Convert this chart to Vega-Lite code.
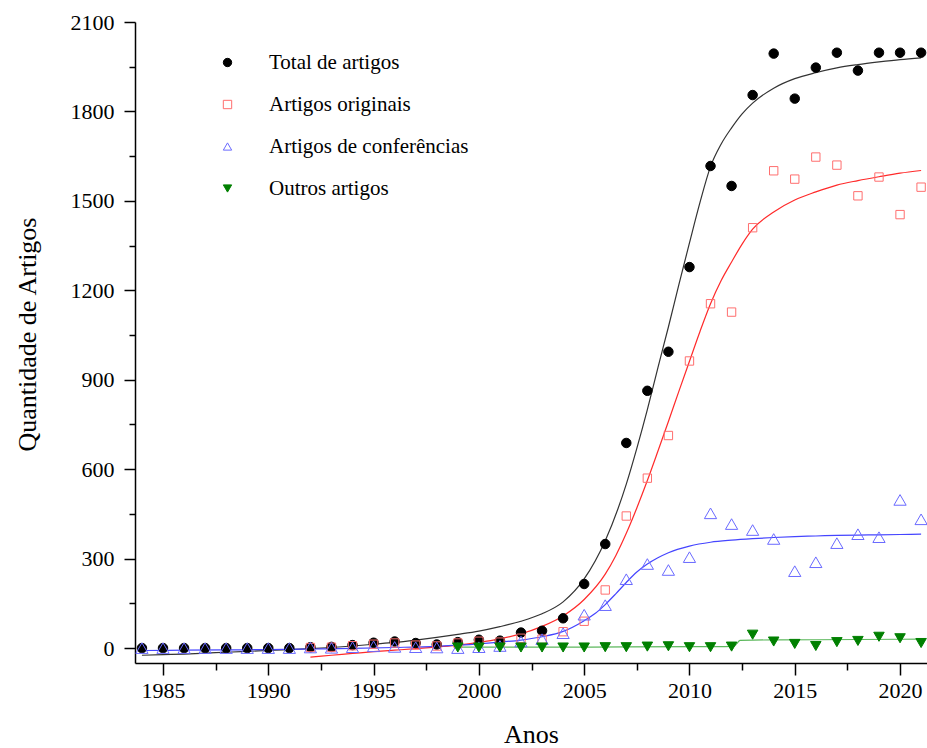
{
  "$schema": "https://vega.github.io/schema/vega-lite/v6.json",
  "width": 792,
  "height": 641,
  "autosize": "none",
  "padding": {"left": 135, "top": 22, "right": 0, "bottom": 85},
  "background": "white",
  "config": {
    "view": {"stroke": null},
    "font": "Liberation Serif",
    "axis": {
      "grid": false,
      "domainColor": "black",
      "domainWidth": 1.5,
      "tickColor": "black",
      "tickWidth": 1.5,
      "labelFont": "Liberation Serif",
      "labelFontSize": 22,
      "labelColor": "black",
      "titleFont": "Liberation Serif",
      "titleFontSize": 26,
      "titleFontWeight": "normal",
      "titleColor": "black"
    },
    "legend": {
      "orient": "none",
      "legendX": 82,
      "legendY": 30,
      "padding": 0,
      "labelFont": "Liberation Serif",
      "labelFontSize": 21,
      "labelColor": "black",
      "labelLimit": 0,
      "symbolSize": 70,
      "symbolStrokeWidth": 1,
      "rowPadding": 20,
      "labelOffset": 31
    }
  },
  "datasets": {
    "pts": [
      {"year": 1984, "Total de artigos": 0, "Artigos originais": null, "Artigos de conferências": 0, "Outros artigos": null},
      {"year": 1985, "Total de artigos": 0, "Artigos originais": null, "Artigos de conferências": 0, "Outros artigos": null},
      {"year": 1986, "Total de artigos": 0, "Artigos originais": null, "Artigos de conferências": 0, "Outros artigos": null},
      {"year": 1987, "Total de artigos": 0, "Artigos originais": null, "Artigos de conferências": 0, "Outros artigos": null},
      {"year": 1988, "Total de artigos": 0, "Artigos originais": null, "Artigos de conferências": 0, "Outros artigos": null},
      {"year": 1989, "Total de artigos": 0, "Artigos originais": null, "Artigos de conferências": 0, "Outros artigos": null},
      {"year": 1990, "Total de artigos": 0, "Artigos originais": null, "Artigos de conferências": 0, "Outros artigos": null},
      {"year": 1991, "Total de artigos": 0, "Artigos originais": null, "Artigos de conferências": 0, "Outros artigos": null},
      {"year": 1992, "Total de artigos": 3, "Artigos originais": 2, "Artigos de conferências": 2, "Outros artigos": null},
      {"year": 1993, "Total de artigos": 4, "Artigos originais": 3, "Artigos de conferências": 1, "Outros artigos": null},
      {"year": 1994, "Total de artigos": 10, "Artigos originais": 8, "Artigos de conferências": 3, "Outros artigos": null},
      {"year": 1995, "Total de artigos": 18, "Artigos originais": 13, "Artigos de conferências": 6, "Outros artigos": null},
      {"year": 1996, "Total de artigos": 22, "Artigos originais": 17, "Artigos de conferências": 4, "Outros artigos": null},
      {"year": 1997, "Total de artigos": 17, "Artigos originais": 10, "Artigos de conferências": 3, "Outros artigos": null},
      {"year": 1998, "Total de artigos": 12, "Artigos originais": 7, "Artigos de conferências": 2, "Outros artigos": null},
      {"year": 1999, "Total de artigos": 20, "Artigos originais": 17, "Artigos de conferências": 0, "Outros artigos": 2},
      {"year": 2000, "Total de artigos": 28, "Artigos originais": 23, "Artigos de conferências": 3, "Outros artigos": 2},
      {"year": 2001, "Total de artigos": 25, "Artigos originais": 20, "Artigos de conferências": 7, "Outros artigos": 2},
      {"year": 2002, "Total de artigos": 52, "Artigos originais": 33, "Artigos de conferências": 22, "Outros artigos": 2},
      {"year": 2003, "Total de artigos": 58, "Artigos originais": 30, "Artigos de conferências": 30, "Outros artigos": 2},
      {"year": 2004, "Total de artigos": 100, "Artigos originais": 55, "Artigos de conferências": 50, "Outros artigos": 2},
      {"year": 2005, "Total de artigos": 215, "Artigos originais": 90, "Artigos de conferências": 112, "Outros artigos": 2},
      {"year": 2006, "Total de artigos": 349, "Artigos originais": 195, "Artigos de conferências": 144, "Outros artigos": 3},
      {"year": 2007, "Total de artigos": 688, "Artigos originais": 443, "Artigos de conferências": 231, "Outros artigos": 3},
      {"year": 2008, "Total de artigos": 863, "Artigos originais": 570, "Artigos de conferências": 282, "Outros artigos": 5},
      {"year": 2009, "Total de artigos": 994, "Artigos originais": 713, "Artigos de conferências": 262, "Outros artigos": 6},
      {"year": 2010, "Total de artigos": 1278, "Artigos originais": 963, "Artigos de conferências": 305, "Outros artigos": 3},
      {"year": 2011, "Total de artigos": 1617, "Artigos originais": 1155, "Artigos de conferências": 452, "Outros artigos": 3},
      {"year": 2012, "Total de artigos": 1550, "Artigos originais": 1127, "Artigos de conferências": 416, "Outros artigos": 5},
      {"year": 2013, "Total de artigos": 1855, "Artigos originais": 1410, "Artigos de conferências": 396, "Outros artigos": 45},
      {"year": 2014, "Total de artigos": 1994, "Artigos originais": 1601, "Artigos de conferências": 366, "Outros artigos": 22},
      {"year": 2015, "Total de artigos": 1843, "Artigos originais": 1573, "Artigos de conferências": 258, "Outros artigos": 14},
      {"year": 2016, "Total de artigos": 1947, "Artigos originais": 1647, "Artigos de conferências": 288, "Outros artigos": 7},
      {"year": 2017, "Total de artigos": 1997, "Artigos originais": 1620, "Artigos de conferências": 352, "Outros artigos": 20},
      {"year": 2018, "Total de artigos": 1937, "Artigos originais": 1517, "Artigos de conferências": 382, "Outros artigos": 24},
      {"year": 2019, "Total de artigos": 1997, "Artigos originais": 1580, "Artigos de conferências": 372, "Outros artigos": 38},
      {"year": 2020, "Total de artigos": 1997, "Artigos originais": 1454, "Artigos de conferências": 497, "Outros artigos": 33},
      {"year": 2021, "Total de artigos": 1997, "Artigos originais": 1546, "Artigos de conferências": 432, "Outros artigos": 17}
    ],
    "fits": [
      {"k": "t", "x": 1984, "y": -24}, {"k": "t", "x": 1985, "y": -22}, {"k": "t", "x": 1986, "y": -20}, {"k": "t", "x": 1987, "y": -17},
      {"k": "t", "x": 1988, "y": -14}, {"k": "t", "x": 1989, "y": -11}, {"k": "t", "x": 1990, "y": -8}, {"k": "t", "x": 1991, "y": -5},
      {"k": "t", "x": 1992, "y": -2}, {"k": "t", "x": 1993, "y": 2}, {"k": "t", "x": 1994, "y": 7}, {"k": "t", "x": 1995, "y": 13},
      {"k": "t", "x": 1996, "y": 19}, {"k": "t", "x": 1997, "y": 27}, {"k": "t", "x": 1998, "y": 36}, {"k": "t", "x": 1999, "y": 46},
      {"k": "t", "x": 2000, "y": 57}, {"k": "t", "x": 2001, "y": 72}, {"k": "t", "x": 2002, "y": 90}, {"k": "t", "x": 2003, "y": 115},
      {"k": "t", "x": 2004, "y": 155}, {"k": "t", "x": 2005, "y": 232}, {"k": "t", "x": 2006, "y": 360}, {"k": "t", "x": 2007, "y": 550},
      {"k": "t", "x": 2007.5, "y": 670}, {"k": "t", "x": 2008, "y": 800}, {"k": "t", "x": 2008.5, "y": 940}, {"k": "t", "x": 2009, "y": 1077},
      {"k": "t", "x": 2009.5, "y": 1220}, {"k": "t", "x": 2010, "y": 1359}, {"k": "t", "x": 2010.5, "y": 1495}, {"k": "t", "x": 2011, "y": 1615},
      {"k": "t", "x": 2011.5, "y": 1690}, {"k": "t", "x": 2012, "y": 1745}, {"k": "t", "x": 2012.5, "y": 1792}, {"k": "t", "x": 2013, "y": 1828},
      {"k": "t", "x": 2014, "y": 1878}, {"k": "t", "x": 2015, "y": 1910}, {"k": "t", "x": 2016, "y": 1930}, {"k": "t", "x": 2017, "y": 1946},
      {"k": "t", "x": 2018, "y": 1957}, {"k": "t", "x": 2019, "y": 1966}, {"k": "t", "x": 2020, "y": 1974}, {"k": "t", "x": 2021, "y": 1980},
      {"k": "o", "x": 1992, "y": -30}, {"k": "o", "x": 1993, "y": -24}, {"k": "o", "x": 1994, "y": -18}, {"k": "o", "x": 1995, "y": -12},
      {"k": "o", "x": 1996, "y": -7}, {"k": "o", "x": 1997, "y": -2}, {"k": "o", "x": 1998, "y": 4}, {"k": "o", "x": 1999, "y": 10},
      {"k": "o", "x": 2000, "y": 19}, {"k": "o", "x": 2001, "y": 31}, {"k": "o", "x": 2002, "y": 48}, {"k": "o", "x": 2003, "y": 73},
      {"k": "o", "x": 2004, "y": 108}, {"k": "o", "x": 2005, "y": 163}, {"k": "o", "x": 2006, "y": 248}, {"k": "o", "x": 2006.5, "y": 310},
      {"k": "o", "x": 2007, "y": 385}, {"k": "o", "x": 2007.5, "y": 470}, {"k": "o", "x": 2008, "y": 562}, {"k": "o", "x": 2008.5, "y": 660},
      {"k": "o", "x": 2009, "y": 760}, {"k": "o", "x": 2009.5, "y": 862}, {"k": "o", "x": 2010, "y": 962}, {"k": "o", "x": 2010.5, "y": 1062},
      {"k": "o", "x": 2011, "y": 1155}, {"k": "o", "x": 2011.5, "y": 1232}, {"k": "o", "x": 2012, "y": 1295}, {"k": "o", "x": 2012.5, "y": 1355},
      {"k": "o", "x": 2013, "y": 1405}, {"k": "o", "x": 2014, "y": 1463}, {"k": "o", "x": 2015, "y": 1503}, {"k": "o", "x": 2016, "y": 1530},
      {"k": "o", "x": 2017, "y": 1553}, {"k": "o", "x": 2018, "y": 1568}, {"k": "o", "x": 2019, "y": 1581}, {"k": "o", "x": 2020, "y": 1593},
      {"k": "o", "x": 2021, "y": 1602},
      {"k": "c", "x": 1984, "y": -8}, {"k": "c", "x": 1986, "y": -7}, {"k": "c", "x": 1988, "y": -6}, {"k": "c", "x": 1990, "y": -5},
      {"k": "c", "x": 1992, "y": -3}, {"k": "c", "x": 1994, "y": -1}, {"k": "c", "x": 1996, "y": 2}, {"k": "c", "x": 1998, "y": 6},
      {"k": "c", "x": 2000, "y": 14}, {"k": "c", "x": 2001, "y": 20}, {"k": "c", "x": 2002, "y": 27}, {"k": "c", "x": 2003, "y": 38},
      {"k": "c", "x": 2004, "y": 56}, {"k": "c", "x": 2005, "y": 92}, {"k": "c", "x": 2005.5, "y": 115}, {"k": "c", "x": 2006, "y": 146},
      {"k": "c", "x": 2006.5, "y": 182}, {"k": "c", "x": 2007, "y": 220}, {"k": "c", "x": 2007.5, "y": 255}, {"k": "c", "x": 2008, "y": 282},
      {"k": "c", "x": 2008.5, "y": 303}, {"k": "c", "x": 2009, "y": 320}, {"k": "c", "x": 2010, "y": 342}, {"k": "c", "x": 2011, "y": 355},
      {"k": "c", "x": 2012, "y": 362}, {"k": "c", "x": 2013, "y": 367}, {"k": "c", "x": 2014, "y": 371}, {"k": "c", "x": 2015, "y": 374},
      {"k": "c", "x": 2016, "y": 376}, {"k": "c", "x": 2017, "y": 378}, {"k": "c", "x": 2018, "y": 379}, {"k": "c", "x": 2019, "y": 380},
      {"k": "c", "x": 2020, "y": 381}, {"k": "c", "x": 2021, "y": 382},
      {"k": "g", "x": 1999, "y": 3}, {"k": "g", "x": 2003, "y": 3}, {"k": "g", "x": 2007, "y": 4}, {"k": "g", "x": 2011, "y": 5},
      {"k": "g", "x": 2012.1, "y": 6}, {"k": "g", "x": 2012.25, "y": 15}, {"k": "g", "x": 2012.4, "y": 26}, {"k": "g", "x": 2013, "y": 27},
      {"k": "g", "x": 2016, "y": 28}, {"k": "g", "x": 2021, "y": 30}
    ]
  },
  "layer": [
    {
      "data": {"name": "fits"},
      "mark": {"type": "line", "interpolate": "monotone", "strokeWidth": 1.2},
      "encoding": {
        "x": {
          "field": "x", "type": "quantitative",
          "scale": {"domain": [1983.67, 2021.28], "nice": false, "zero": false},
          "axis": {
            "values": [1985, 1990, 1995, 2000, 2005, 2010, 2015, 2020],
            "format": "d",
            "tickSize": 12,
            "labelPadding": 5,
            "title": "Anos",
            "titleY": 79,
            "titleBaseline": "alphabetic"
          }
        },
        "y": {
          "field": "y", "type": "quantitative",
          "scale": {"domain": [-50, 2100], "nice": false, "zero": false},
          "axis": {
            "values": [0, 300, 600, 900, 1200, 1500, 1800, 2100],
            "format": "d",
            "tickSize": 11,
            "labelPadding": 10,
            "title": "Quantidade de Artigos",
            "titleX": -100,
            "titleY": 312,
            "titleAngle": -90,
            "titleAlign": "center",
            "titleBaseline": "alphabetic"
          }
        },
        "color": {
          "field": "k", "type": "nominal", "legend": null,
          "scale": {"domain": ["t", "o", "c", "g"], "range": ["#333333", "#ff2a2a", "#4545ff", "#5cb85c"]}
        },
        "detail": {"field": "k"}
      }
    },
    {
      "data": {"name": "pts"},
      "transform": [
        {"fold": ["Total de artigos", "Artigos originais", "Artigos de conferências", "Outros artigos"], "as": ["series", "value"]},
        {"filter": "datum.value != null"}
      ],
      "encoding": {
        "x": {
          "field": "year", "type": "quantitative",
          "axis": {
            "orient": "bottom",
            "values": [1987.5, 1992.5, 1997.5, 2002.5, 2007.5, 2012.5, 2017.5],
            "labels": false, "domain": false, "tickSize": 7, "title": null
          }
        },
        "y": {
          "field": "value", "type": "quantitative",
          "axis": {
            "orient": "left",
            "values": [150, 450, 750, 1050, 1350, 1650, 1950],
            "labels": false, "domain": false, "tickSize": 6, "title": null
          }
        },
        "shape": {
          "field": "series", "type": "nominal", "title": null,
          "scale": {"domain": ["Total de artigos", "Artigos originais", "Artigos de conferências", "Outros artigos"], "range": ["circle", "square", "triangle-up", "triangle-down"]}
        },
        "fill": {
          "field": "series", "type": "nominal", "title": null,
          "scale": {"domain": ["Total de artigos", "Artigos originais", "Artigos de conferências", "Outros artigos"], "range": ["#000000", "transparent", "transparent", "#008000"]}
        },
        "stroke": {
          "field": "series", "type": "nominal", "title": null,
          "scale": {"domain": ["Total de artigos", "Artigos originais", "Artigos de conferências", "Outros artigos"], "range": ["#000000", "#ff6e6e", "#6a6aff", "#008000"]}
        }
      },
      "layer": [
        {
          "transform": [{"filter": {"field": "series", "equal": "Total de artigos"}}],
          "mark": {"type": "point", "size": 90, "strokeWidth": 1, "opacity": 1}
        },
        {
          "transform": [{"filter": {"field": "series", "equal": "Artigos originais"}}],
          "mark": {"type": "point", "size": 70, "strokeWidth": 1, "opacity": 1}
        },
        {
          "transform": [{"filter": {"field": "series", "equal": "Artigos de conferências"}}],
          "mark": {"type": "point", "size": 150, "strokeWidth": 1, "opacity": 1}
        },
        {
          "transform": [{"filter": {"field": "series", "equal": "Outros artigos"}}],
          "mark": {"type": "point", "size": 110, "strokeWidth": 1, "opacity": 1}
        }
      ]
    }
  ],
  "resolve": {"axis": {"x": "independent", "y": "independent"}}
}
